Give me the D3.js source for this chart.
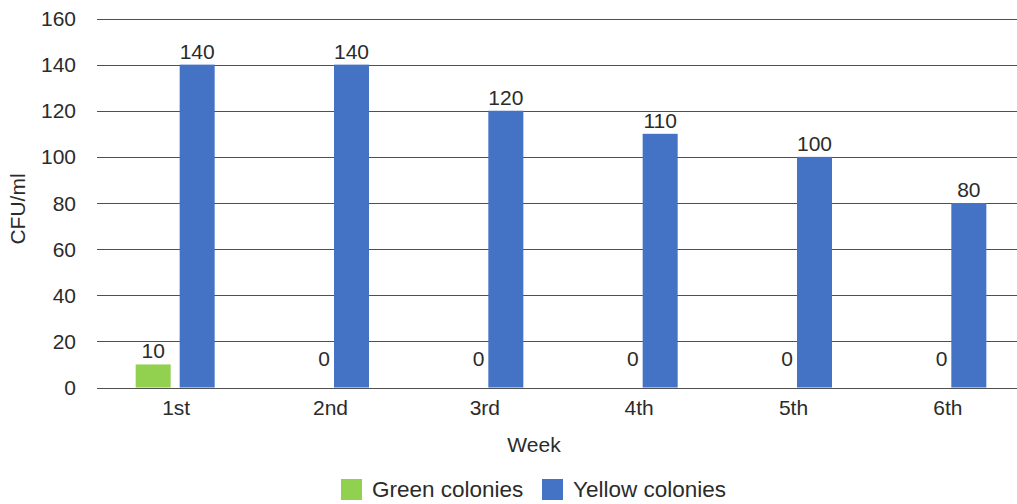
<!DOCTYPE html>
<html>
<head>
<meta charset="utf-8">
<script src="https://cdn.jsdelivr.net/npm/d3@7"></script>
<style>
  body { margin: 0; background: #fff; }
  text { font-family: "Liberation Sans", Arial, sans-serif; fill: #2b2b2b; }
</style>
</head>
<body>
<svg id="chart" width="1017" height="504"></svg>
<script>
const weeks = ["1st", "2nd", "3rd", "4th", "5th", "6th"];
const seriesNames = ["Green colonies", "Yellow colonies"];
const greenColonies = [10, 0, 0, 0, 0, 0];
const yellowColonies = [140, 140, 120, 110, 100, 80];
const yTicks = [0, 20, 40, 60, 80, 100, 120, 140, 160];
const colors = ["#92D050", "#4472C4"];

function drawChart() {
  const svg = d3.select("#chart");
  const left = 98, right = 1024, top = 18.5, bottom = 387.5;

  const x = d3.scaleBand().domain(weeks).range([left, right]);
  const y = d3.scaleLinear().domain([0, 160]).range([bottom, top]);

  // bars are 35px wide with a 9px gap, group centred in the band
  const barW = 35, gap = 9;
  const x1 = d3.scaleOrdinal().domain(seriesNames)
    .range([x.bandwidth() / 2 - gap / 2 - barW, x.bandwidth() / 2 + gap / 2]);

  // gridlines
  svg.append("g")
    .selectAll("line")
    .data(yTicks)
    .enter()
    .append("line")
    .attr("x1", 97)
    .attr("x2", 1017)
    .attr("y1", (d) => Math.round(y(d)) + 0.5)
    .attr("y2", (d) => Math.round(y(d)) + 0.5)
    .attr("stroke", "#505050")
    .attr("stroke-width", 1);

  // y tick labels
  svg.append("g")
    .selectAll("text")
    .data(yTicks)
    .enter()
    .append("text")
    .attr("x", 76)
    .attr("y", (d) => y(d))
    .attr("dy", "0.36em")
    .attr("text-anchor", "end")
    .attr("font-size", 21)
    .text((d) => d);

  const rows = weeks.map((w, i) => ({
    week: w,
    values: [
      { name: seriesNames[0], value: greenColonies[i] },
      { name: seriesNames[1], value: yellowColonies[i] },
    ],
  }));

  const groups = svg.append("g")
    .selectAll("g")
    .data(rows)
    .enter()
    .append("g")
    .attr("transform", (d) => `translate(${x(d.week)},0)`);

  groups.selectAll("rect")
    .data((d) => d.values)
    .enter()
    .append("rect")
    .attr("x", (d) => x1(d.name))
    .attr("width", barW)
    .attr("y", (d) => y(d.value))
    .attr("height", (d) => y(0) - y(d.value))
    .attr("fill", (d, i) => colors[i]);

  // value labels; zero labels sit just left of the yellow bar
  groups.selectAll("text")
    .data((d) => d.values)
    .enter()
    .append("text")
    .attr("font-size", 21)
    .attr("text-anchor", (d) => (d.value === 0 ? "end" : "middle"))
    .attr("x", (d) =>
      d.value === 0 ? x1(seriesNames[1]) - 4 : x1(d.name) + barW / 2
    )
    .attr("y", (d) => (d.value === 0 ? y(0) - 21.5 : y(d.value) - 6))
    .text((d) => d.value);

  // x labels
  svg.append("g")
    .selectAll("text")
    .data(weeks)
    .enter()
    .append("text")
    .attr("x", (d) => x(d) + x.bandwidth() / 2 + 1)
    .attr("y", 415)
    .attr("text-anchor", "middle")
    .attr("font-size", 21)
    .text((d) => d);

  // axis titles
  svg.append("text")
    .attr("x", 534)
    .attr("y", 452)
    .attr("text-anchor", "middle")
    .attr("font-size", 21)
    .text("Week");

  svg.append("text")
    .attr("transform", "translate(25,209) rotate(-90)")
    .attr("text-anchor", "middle")
    .attr("font-size", 21)
    .text("CFU/ml");

  // legend
  const legendX = [341, 542];
  const legend = svg.append("g")
    .selectAll("g")
    .data(seriesNames)
    .enter()
    .append("g")
    .attr("transform", (d, i) => `translate(${legendX[i]},479)`);

  legend.append("rect")
    .attr("width", 21)
    .attr("height", 21)
    .attr("fill", (d, i) => colors[i]);

  legend.append("text")
    .attr("x", 31)
    .attr("y", 18)
    .attr("font-size", 22.5)
    .text((d) => d);
}

drawChart();
</script>
</body>
</html>
